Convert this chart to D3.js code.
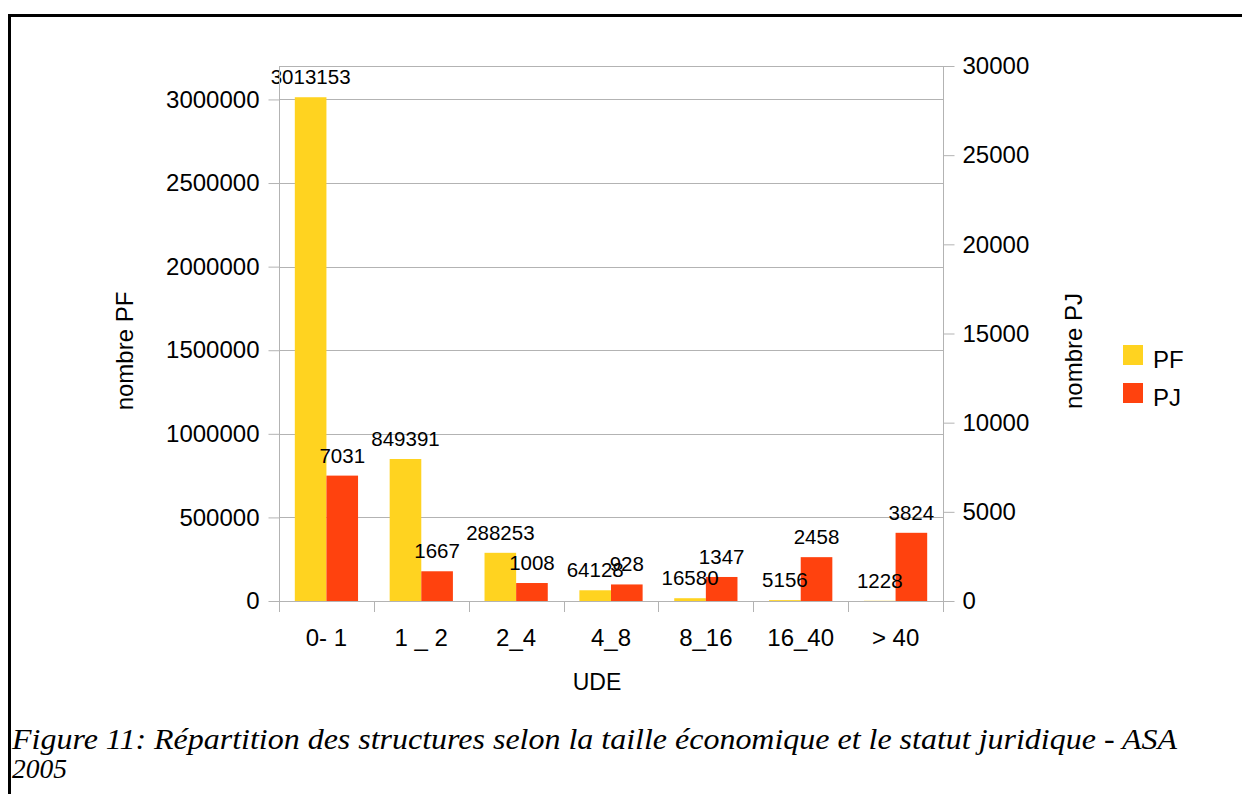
<!DOCTYPE html>
<html>
<head>
<meta charset="utf-8">
<script src="https://cdnjs.cloudflare.com/ajax/libs/d3/7.8.5/d3.min.js"></script>
<style>
  html, body { margin: 0; padding: 0; background: #fff; }
  svg { display: block; }
  text { font-family: "Liberation Sans", Arial, sans-serif; fill: #000; }
</style>
</head>
<body>
<svg id="chart" width="1242" height="794"></svg>
<script>
const categories = ["0- 1", "1 _ 2", "2_4", "4_8", "8_16", "16_40", "> 40"];
const seriesNames = ["PF", "PJ"];
const pfValues = [3013153, 849391, 288253, 64128, 16580, 5156, 1228];
const pjValues = [7031, 1667, 1008, 928, 1347, 2458, 3824];
const leftTicks = [0, 500000, 1000000, 1500000, 2000000, 2500000, 3000000];
const rightTicks = [0, 5000, 10000, 15000, 20000, 25000, 30000];
const colors = { PF: "#ffd320", PJ: "#ff420e" };
const captionLine1 = "Figure 11: Répartition des structures selon la taille économique et le statut juridique - ASA";
const captionLine2 = "2005";

(function () {
const svg = d3.select("#chart");
const gridColor = "#b3b3b3";
const pLeft = 279, pRight = 943, pTop = 66, pBottom = 601;

const x = d3.scaleBand().domain(categories).range([pLeft, pRight]).padding(0);
const x1 = d3.scaleBand().domain(seriesNames).range([0, x.bandwidth()]).paddingInner(0).paddingOuter(0.5);
const yL = d3.scaleLinear().domain([0, 3200000]).range([pBottom, pTop]);
const yR = d3.scaleLinear().domain([0, 30000]).range([pBottom, pTop]);

// frame
svg.append("line").attr("x1", 8).attr("x2", 1242).attr("y1", 15.5).attr("y2", 15.5)
  .attr("stroke", "#000").attr("stroke-width", 3);
svg.append("line").attr("x1", 9.5).attr("x2", 9.5).attr("y1", 14).attr("y2", 794)
  .attr("stroke", "#000").attr("stroke-width", 3);

// gridlines
svg.append("g").selectAll("line").data(leftTicks.concat([3200000])).join("line")
  .attr("x1", pLeft).attr("x2", pRight)
  .attr("y1", d => Math.round(yL(d)) + 0.5).attr("y2", d => Math.round(yL(d)) + 0.5)
  .attr("stroke", gridColor).attr("stroke-width", 1);

// bars
const data = categories.map((c, i) => ({ cat: c, PF: pfValues[i], PJ: pjValues[i] }));
const groups = svg.append("g").selectAll("g").data(data).join("g")
  .attr("transform", d => `translate(${x(d.cat)},0)`);
groups.append("rect")
  .attr("x", x1("PF")).attr("width", x1.bandwidth())
  .attr("y", d => yL(d.PF)).attr("height", d => pBottom - yL(d.PF))
  .attr("fill", colors.PF);
groups.append("rect")
  .attr("x", x1("PJ")).attr("width", x1.bandwidth())
  .attr("y", d => yR(d.PJ)).attr("height", d => pBottom - yR(d.PJ))
  .attr("fill", colors.PJ);

// axes
function styleAxis(g) {
  g.selectAll(".tick line").attr("stroke", gridColor);
  g.selectAll(".tick text").style("font-family", '"Liberation Sans", Arial, sans-serif')
    .style("font-size", "24px").attr("fill", "#000");
}
const axL = svg.append("g").attr("transform", `translate(${pLeft + 0.5},0)`)
  .call(d3.axisLeft(yL).tickValues(leftTicks).tickSize(11).tickSizeOuter(0).tickPadding(9).tickFormat(d3.format("d")));
axL.select(".domain").remove();
styleAxis(axL);
svg.append("line").attr("x1", pLeft + 0.5).attr("x2", pLeft + 0.5).attr("y1", pTop).attr("y2", pBottom + 11)
  .attr("stroke", gridColor);

const axR = svg.append("g").attr("transform", `translate(${pRight + 0.5},0)`)
  .call(d3.axisRight(yR).tickValues(rightTicks).tickSize(11).tickSizeOuter(0).tickPadding(8).tickFormat(d3.format("d")));
axR.select(".domain").remove();
styleAxis(axR);
svg.append("line").attr("x1", pRight + 0.5).attr("x2", pRight + 0.5).attr("y1", pTop).attr("y2", pBottom + 11)
  .attr("stroke", gridColor);

// category axis
svg.append("line").attr("x1", pLeft).attr("x2", pRight).attr("y1", pBottom + 0.5).attr("y2", pBottom + 0.5)
  .attr("stroke", gridColor);
const boundaries = categories.map(c => x(c)).concat([pRight]);
svg.append("g").selectAll("line").data(boundaries).join("line")
  .attr("x1", d => Math.round(d) + 0.5).attr("x2", d => Math.round(d) + 0.5)
  .attr("y1", pBottom).attr("y2", pBottom + 11).attr("stroke", gridColor);
svg.append("g").selectAll("text").data(categories).join("text")
  .attr("x", d => x(d) + x.bandwidth() / 2).attr("y", 646)
  .attr("text-anchor", "middle").style("font-size", "24px").text(d => d);

// data labels
groups.append("text")
  .attr("x", x1("PF") + x1.bandwidth() / 2).attr("y", d => yL(d.PF) - 13)
  .attr("text-anchor", "middle").style("font-size", "20.5px").text(d => d.PF);
groups.append("text")
  .attr("x", x1("PJ") + x1.bandwidth() / 2).attr("y", d => yR(d.PJ) - 13)
  .attr("text-anchor", "middle").style("font-size", "20.5px").text(d => d.PJ);

// axis titles
svg.append("text").attr("transform", "translate(133,351) rotate(-90)")
  .attr("text-anchor", "middle").style("font-size", "24px").text("nombre PF");
svg.append("text").attr("transform", "translate(1082,351) rotate(-90)")
  .attr("text-anchor", "middle").style("font-size", "24px").text("nombre PJ");
svg.append("text").attr("x", 597).attr("y", 690).attr("text-anchor", "middle")
  .style("font-size", "23px").text("UDE");

// legend
const leg = svg.append("g").selectAll("g").data(seriesNames).join("g")
  .attr("transform", (d, i) => `translate(1123,${345 + i * 38})`);
leg.append("rect").attr("width", 20).attr("height", 20).attr("fill", d => colors[d]);
leg.append("text").attr("x", 30).attr("y", 22.5).style("font-size", "24px").text(d => d);

// caption
const serif = '"Liberation Serif", "Times New Roman", Times, "DejaVu Serif", serif';
svg.append("text").attr("x", 12).attr("y", 749)
  .style("font-family", serif)
  .style("font-style", "italic").style("font-size", "29px")
  .attr("textLength", 1165).attr("lengthAdjust", "spacingAndGlyphs")
  .text(captionLine1);
svg.append("text").attr("x", 12).attr("y", 778)
  .style("font-family", serif)
  .style("font-style", "italic").style("font-size", "27px")
  .attr("textLength", 55).attr("lengthAdjust", "spacingAndGlyphs")
  .text(captionLine2);
})();
</script>
</body>
</html>
